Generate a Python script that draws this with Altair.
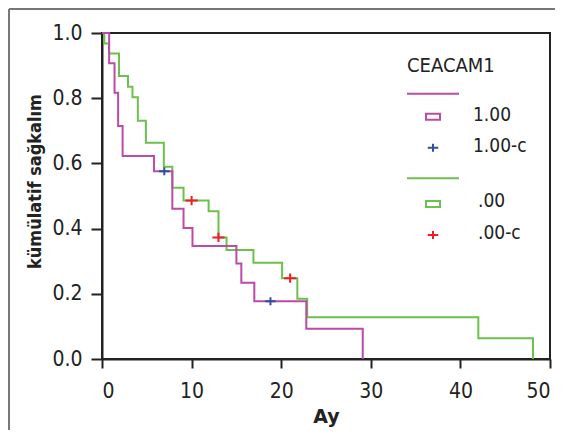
import altair as alt
import pandas as pd

# ---- data ----
# CEACAM1 = 1.00 (magenta)
t_100 = [0, 0.8, 1.4, 1.8, 2.3, 5.8, 7.85, 9.1, 10.1, 15.0, 15.55, 17.0, 22.8, 29.1]
s_100 = [1.0, 0.907, 0.817, 0.715, 0.623, 0.576, 0.461, 0.402, 0.347, 0.293, 0.234, 0.177, 0.093, 0.0]
# CEACAM1 = .00 (green)
t_000 = [0, 0.26, 0.78, 1.9, 2.9, 3.4, 4.0, 4.9, 6.9, 7.85, 9.1, 11.9, 13.0, 13.9, 16.9, 20.1, 21.8, 22.9, 42.0, 48.1]
s_000 = [1.0, 0.968, 0.937, 0.868, 0.835, 0.803, 0.731, 0.663, 0.590, 0.525, 0.486, 0.453, 0.373, 0.334, 0.295, 0.248, 0.185, 0.128, 0.064, 0.0]
# censored points
cens_100_t = [6.95, 18.8]
cens_100_s = [0.576, 0.177]
cens_000_t = [10.0, 13.0, 21.0]
cens_000_s = [0.486, 0.373, 0.248]

x_ticks = [0, 10, 20, 30, 40, 50]
y_ticks = [0.0, 0.2, 0.4, 0.6, 0.8, 1.0]

legend_title = "CEACAM1"
legend_labels = ["1.00", "1.00-c", ".00", ".00-c"]

MAGENTA = "#bb4aa8"
GREEN = "#6cc04c"
BLUE = "#2f4f9f"
RED = "#ee1c25"
FONT = "DejaVu Sans Condensed, DejaVu Sans"
PLUS = "M-1,0H1M0,-0.75V0.75"

df_100 = pd.DataFrame({"t": t_100, "s": s_100})
df_000 = pd.DataFrame({"t": t_000, "s": s_000})
dc_100 = pd.DataFrame({"t": cens_100_t, "s": cens_100_s})
dc_000 = pd.DataFrame({"t": cens_000_t, "s": cens_000_s})
dummy = pd.DataFrame({"k": [0]})

xs = alt.Scale(domain=[0, 50], nice=False, zero=False)
ys = alt.Scale(domain=[0, 1], nice=False)

x_enc = alt.X("t:Q", scale=xs, title="Ay",
              axis=alt.Axis(values=x_ticks, format="d", grid=False, tickSize=9,
                            labelPadding=12, titlePadding=6, titleFont="DejaVu Sans",
                            titleFontSize=19))
y_enc = alt.Y("s:Q", scale=ys, title="kümülatif sağkalım",
              axis=alt.Axis(values=y_ticks, format=".1f", grid=False, tickSize=11,
                            labelPadding=9, titleX=-62, titleY=148, titleAngle=270,
                            titleAlign="center", titleBaseline="alphabetic"))

green_line = alt.Chart(df_000).mark_line(interpolate="step-after", color=GREEN,
                                         strokeWidth=2).encode(x=x_enc, y=y_enc)
mag_line = alt.Chart(df_100).mark_line(interpolate="step-after", color=MAGENTA,
                                       strokeWidth=2).encode(x="t:Q", y="s:Q")
blue_pts = alt.Chart(dc_100).mark_point(shape=PLUS, filled=False, size=110, color=BLUE,
                                        strokeWidth=2, opacity=1).encode(x="t:Q", y="s:Q")
red_pts = alt.Chart(dc_000).mark_point(shape=PLUS, filled=False, size=150, color=RED,
                                       strokeWidth=2, opacity=1).encode(x="t:Q", y="s:Q")

# ---- hand-built legend (SPSS style) ----
def ltext(txt, x, y, size=19):
    return alt.Chart(dummy).mark_text(text=txt, align="left", baseline="alphabetic",
                                      font=FONT, fontSize=size, color="#222").encode(
        x=alt.value(x), y=alt.value(y))

def lrule(x1, x2, y, color):
    return alt.Chart(dummy).mark_rule(color=color, strokeWidth=2).encode(
        x=alt.value(x1), x2=alt.value(x2), y=alt.value(y))

def lrect(cx, cy, color):
    return alt.Chart(dummy).mark_rect(fill="white", stroke=color, strokeWidth=2).encode(
        x=alt.value(cx - 7), x2=alt.value(cx + 7), y=alt.value(cy - 3), y2=alt.value(cy + 3))

def lplus(cx, cy, color):
    return alt.Chart(dummy).mark_point(shape=PLUS, filled=False, size=110, color=color,
                                       strokeWidth=2, opacity=1).encode(
        x=alt.value(cx), y=alt.value(cy))

legend = [
    ltext(legend_title, 305, 39, 20),
    lrule(305, 357, 60.7, MAGENTA),
    lrect(331, 83.7, MAGENTA),
    ltext(legend_labels[0], 371, 87.7),
    lplus(331, 114.7, BLUE),
    ltext(legend_labels[1], 371, 118.7),
    lrule(305, 357, 145.3, GREEN),
    lrect(331, 171, GREEN),
    ltext(legend_labels[2], 376, 173.7),
    lplus(331, 202, RED),
    ltext(legend_labels[3], 376, 206.3),
]

# outer picture frame (left and top edges)
frame = [
    alt.Chart(dummy).mark_rule(color="#777", strokeWidth=2).encode(
        x=alt.value(-93), y=alt.value(-24), y2=alt.value(420)),
    alt.Chart(dummy).mark_rule(color="#777", strokeWidth=2).encode(
        x=alt.value(-93), x2=alt.value(460), y=alt.value(-24)),
]

chart = alt.layer(green_line, mag_line, blue_pts, red_pts, *legend, *frame).properties(
    width=448, height=326,
    autosize=alt.AutoSizeParams(type="none"),
    padding={"left": 94, "top": 25, "right": 5, "bottom": 71},
).configure_view(
    stroke="#222", strokeWidth=2
).configure_axis(
    domainColor="#222", domainWidth=2, tickColor="#222", tickWidth=2,
    labelFont=FONT, labelFontSize=21, labelColor="#222",
    titleFont=FONT, titleFontSize=18, titleFontWeight="bold", titleColor="#222",
)

chart.save("out.html", embed_options={"renderer": "svg", "actions": False})
